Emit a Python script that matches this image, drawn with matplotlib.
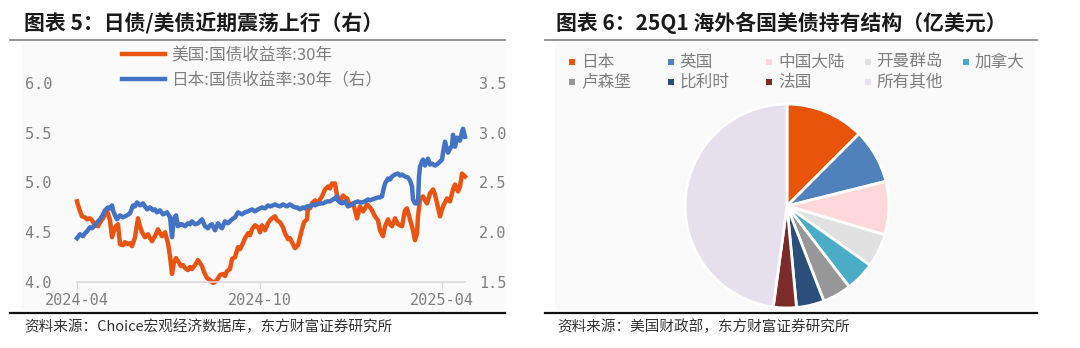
import pandas as pd
import matplotlib
matplotlib.use("Agg")
import matplotlib.pyplot as plt
from matplotlib.lines import Line2D
from matplotlib.patches import Rectangle

plt.rcParams['font.family'] = ['Noto Sans CJK SC', 'DejaVu Sans']

# ---------------- 数据 ----------------
start = pd.Timestamp('2024-04-25')

# 美国30年国债收益率（左轴），按起始日后的天数记录
us_days = [0, 2, 5, 8, 10, 13, 15, 18, 21, 23, 26, 28, 30, 33, 35, 38, 41, 43, 46, 48,
           51, 53, 55, 58, 61, 63, 65, 68, 71, 73, 75, 78, 81, 83, 85, 88, 91, 93, 95, 97,
           99, 101, 104, 106, 108, 111, 113, 115, 118, 121, 123, 125, 127, 130, 133, 136, 138, 140, 143, 146,
           148, 150, 153, 155, 158, 161, 163, 165, 168, 171, 173, 175, 178, 181, 183, 185, 188, 191, 193, 195,
           198, 200, 203, 206, 208, 211, 213, 215, 218, 221, 223, 225, 227, 230, 231, 233, 235, 238, 241, 243,
           245, 248, 251, 253, 255, 258, 260, 263, 266, 268, 270, 273, 276, 278, 280, 283, 286, 288, 290, 293,
           295, 298, 301, 303, 306, 308, 311, 313, 315, 318, 321, 323, 325, 328, 330, 333, 336, 338, 340, 341,
           343, 346, 348, 350, 353, 356, 358, 360, 363, 366, 368, 370, 373, 376, 378, 381, 383, 385, 388]
us_30y = [4.81, 4.74, 4.66, 4.65, 4.63, 4.64, 4.62, 4.57, 4.56, 4.60, 4.64, 4.68, 4.72, 4.62, 4.45, 4.55, 4.58, 4.38, 4.37, 4.40,
          4.38, 4.39, 4.36, 4.45, 4.64, 4.56, 4.50, 4.45, 4.48, 4.44, 4.41, 4.46, 4.53, 4.49, 4.46, 4.50, 4.39, 4.26, 4.08, 4.20,
          4.24, 4.21, 4.16, 4.17, 4.14, 4.12, 4.15, 4.13, 4.17, 4.22, 4.19, 4.16, 4.10, 4.04, 4.02, 3.99, 4.00, 4.02, 4.07, 4.08,
          4.06, 4.11, 4.13, 4.23, 4.25, 4.35, 4.33, 4.37, 4.44, 4.49, 4.47, 4.53, 4.57, 4.55, 4.50, 4.57, 4.52, 4.59, 4.62, 4.64,
          4.66, 4.62, 4.60, 4.55, 4.49, 4.43, 4.44, 4.40, 4.34, 4.37, 4.45, 4.53, 4.60, 4.63, 4.76, 4.74, 4.79, 4.82, 4.79, 4.83,
          4.86, 4.93, 4.96, 4.94, 4.99, 4.99, 4.87, 4.81, 4.87, 4.85, 4.84, 4.77, 4.79, 4.72, 4.64, 4.76, 4.71, 4.74, 4.78, 4.75,
          4.72, 4.66, 4.62, 4.52, 4.46, 4.56, 4.63, 4.58, 4.56, 4.64, 4.58, 4.57, 4.56, 4.72, 4.74, 4.63, 4.52, 4.42, 4.49, 4.66,
          4.83, 4.86, 4.82, 4.79, 4.89, 4.93, 4.88, 4.79, 4.66, 4.76, 4.80, 4.84, 4.81, 4.93, 4.98, 4.91, 4.96, 5.09, 5.06]

# 日本30年国债收益率（右轴）
jp_days = [0, 3, 6, 8, 10, 13, 15, 18, 21, 23, 25, 28, 31, 33, 35, 36, 38, 40, 43, 46,
           48, 50, 53, 56, 58, 60, 63, 66, 68, 70, 73, 76, 78, 80, 83, 86, 88, 90, 93, 95,
           97, 99, 101, 103, 105, 108, 111, 113, 115, 118, 121, 123, 125, 128, 131, 133, 135, 138, 141, 143,
           145, 148, 151, 153, 155, 158, 161, 163, 165, 168, 171, 173, 175, 178, 181, 183, 185, 188, 191, 193,
           196, 198, 200, 203, 206, 208, 210, 213, 216, 218, 220, 223, 226, 228, 230, 233, 236, 238, 240, 243,
           246, 248, 250, 253, 256, 258, 260, 261, 263, 265, 268, 271, 273, 275, 278, 281, 283, 285, 288, 291,
           293, 295, 298, 301, 303, 305, 306, 308, 311, 313, 315, 318, 321, 323, 325, 328, 331, 333, 335, 336,
           338, 341, 342, 343, 346, 348, 351, 353, 355, 358, 361, 363, 365, 366, 368, 370, 371, 373, 375, 376,
           378, 380, 383, 385, 386, 388]
jp_30y = [1.94, 1.98, 1.96, 1.99, 2.01, 2.05, 2.04, 2.07, 2.11, 2.13, 2.16, 2.22, 2.25, 2.24, 2.27, 2.22, 2.17, 2.13, 2.17, 2.15,
          2.16, 2.17, 2.19, 2.27, 2.26, 2.30, 2.27, 2.29, 2.26, 2.23, 2.25, 2.22, 2.23, 2.20, 2.22, 2.18, 2.19, 2.20, 2.15, 1.95,
          2.14, 2.17, 2.06, 2.08, 2.08, 2.06, 2.09, 2.08, 2.11, 2.08, 2.09, 2.11, 2.13, 2.06, 2.04, 2.07, 2.08, 2.02, 2.09, 2.06,
          2.04, 2.11, 2.09, 2.11, 2.13, 2.15, 2.20, 2.19, 2.18, 2.20, 2.21, 2.22, 2.23, 2.21, 2.23, 2.24, 2.25, 2.24, 2.27, 2.26,
          2.27, 2.28, 2.27, 2.26, 2.28, 2.27, 2.26, 2.28, 2.26, 2.25, 2.25, 2.23, 2.25, 2.24, 2.26, 2.26, 2.28, 2.27, 2.28, 2.29,
          2.29, 2.30, 2.31, 2.31, 2.33, 2.34, 2.36, 2.32, 2.30, 2.29, 2.31, 2.26, 2.27, 2.28, 2.30, 2.31, 2.30, 2.30, 2.31, 2.33,
          2.32, 2.33, 2.34, 2.35, 2.35, 2.36, 2.41, 2.49, 2.54, 2.53, 2.56, 2.58, 2.59, 2.57, 2.58, 2.56, 2.55, 2.52, 2.46, 2.33,
          2.29, 2.29, 2.56, 2.66, 2.73, 2.67, 2.74, 2.68, 2.69, 2.67, 2.69, 2.71, 2.73, 2.80, 2.91, 2.83, 2.80, 2.84, 2.87, 2.98,
          2.86, 2.95, 2.92, 3.01, 3.04, 2.96]

x_ticks = ['2024-04-25', '2024-10-25', '2025-04-25']
x_ticklabels = ['2024-04', '2024-10', '2025-04']
left_ticks = [4.0, 4.5, 5.0, 5.5, 6.0]
right_ticks = [1.5, 2.0, 2.5, 3.0, 3.5]

# 25Q1 海外各国美债持有（亿美元）
holders = ['日本', '英国', '中国大陆', '开曼群岛', '加拿大', '卢森堡', '比利时', '法国', '所有其他']
holdings = [11308, 7793, 7654, 4800, 4250, 4120, 3980, 3300, 43300]
pie_colors = ['#E9540B', '#4F81BD', '#FFD8DB', '#E1E1E1', '#4BACC6',
              '#979797', '#2B4E7A', '#7A2B2A', '#E6DFEC']

# ---------------- 画布 ----------------
W, H = 1080, 348
fig = plt.figure(figsize=(W / 100, H / 100), dpi=100)
fig.patch.set_facecolor('white')


def fx(px):
    return px / W


def fy(py):
    return 1 - py / H


def hline(x0, x1, y, color, lw):
    fig.add_artist(Line2D([fx(x0), fx(x1)], [fy(y), fy(y)], transform=fig.transFigure,
                          color=color, linewidth=lw))


# 背景浅灰区域（放在坐标轴之下）
for x0, x1 in [(22, 505), (555, 1035)]:
    fig.patches.append(Rectangle((fx(x0), fy(310)), fx(x1) - fx(x0), fy(42) - fy(310),
                                 transform=fig.transFigure, facecolor='#FAFAFA',
                                 edgecolor='none', zorder=-10))

# 标题、分隔线、资料来源
title_kw = dict(fontsize=15, fontweight='bold', color='#1A1A1A', va='center', ha='left')
fig.text(fx(24), fy(23), '图表 5：日债/美债近期震荡上行（右）', **title_kw)
fig.text(fx(556), fy(23), '图表 6：25Q1 海外各国美债持有结构（亿美元）', **title_kw)
hline(10, 505, 40, '#8C8C8C', 1.3)
hline(545, 1037, 40, '#8C8C8C', 1.3)
hline(10, 505, 313, '#111111', 1.6)
hline(545, 1037, 313, '#111111', 1.6)
src_kw = dict(fontsize=10.5, color='#333333', va='center', ha='left')
fig.text(fx(24), fy(327), '资料来源：Choice宏观经济数据库，东方财富证券研究所', **src_kw)
fig.text(fx(557), fy(327), '资料来源：美国财政部，东方财富证券研究所', **src_kw)

# ---------------- 左图：30年国债收益率 ----------------
ax = fig.add_axes([fx(77), fy(282), fx(465) - fx(77), fy(83) - fy(282)])
ax.patch.set_alpha(0)
ax2 = ax.twinx()
ax2.patch.set_alpha(0)

us_dates = start + pd.to_timedelta(us_days, unit='D')
jp_dates = start + pd.to_timedelta(jp_days, unit='D')

l_us, = ax.plot(us_dates, us_30y, color='#EA5413', linewidth=3.2,
                solid_joinstyle='round', clip_on=False)
l_jp, = ax2.plot(jp_dates, jp_30y, color='#4472C4', linewidth=3.2,
                 solid_joinstyle='round', clip_on=False)

ax.set_xlim(start, start + pd.Timedelta(days=388))
ax.set_ylim(4.0, 6.0)
ax2.set_ylim(1.5, 3.5)
ax.set_xticks(pd.to_datetime(x_ticks))
ax.set_xticklabels(x_ticklabels)
ax.set_yticks(left_ticks)
ax.set_yticklabels([f'{v:.1f}' for v in left_ticks])
ax2.set_yticks(right_ticks)
ax2.set_yticklabels([f'{v:.1f}' for v in right_ticks])

for a in (ax, ax2):
    for s in ('top', 'left', 'right'):
        a.spines[s].set_visible(False)
    a.spines['bottom'].set_color('#D9D9D9')
    a.spines['bottom'].set_linewidth(1.2)
ax2.spines['bottom'].set_visible(False)

tick_font = dict(family='DejaVu Sans Mono', size=11)
ax.tick_params(axis='x', length=5, color='#D9D9D9', labelcolor='#7F7F7F', pad=3)
ax.tick_params(axis='y', length=0, labelcolor='#7F7F7F', pad=18)
ax2.tick_params(axis='y', length=0, labelcolor='#7F7F7F', pad=10)
for lab in ax.get_xticklabels() + ax.get_yticklabels() + ax2.get_yticklabels():
    lab.set_fontproperties(tick_font)

leg = ax2.legend([l_us, l_jp], ['美国:国债收益率:30年', '日本:国债收益率:30年（右）'],
                 loc='upper left', bbox_to_anchor=(fx(122), fy(47)),
                 bbox_transform=fig.transFigure, frameon=False, fontsize=12,
                 handlelength=2.6, handletextpad=0.35, labelspacing=0.45,
                 borderpad=0, borderaxespad=0, labelcolor='#7F7F7F')

# ---------------- 右图：持有结构饼图 ----------------
cx, cy, r = 787, 206, 104
axp = fig.add_axes([fx(cx - r), fy(cy + r), fx(2 * r), fy(0) - fy(2 * r)])
axp.pie(holdings, colors=pie_colors, startangle=90, counterclock=False, radius=1,
        wedgeprops=dict(edgecolor='white', linewidth=2))
axp.set_xlim(-1.02, 1.02)
axp.set_ylim(-1.02, 1.02)
axp.axis('off')

# 图例：两行五列
for i, (name, col) in enumerate(zip(holders, pie_colors)):
    mx = 572 + (i % 5) * 98.5
    my = 62 + (i // 5) * 20
    fig.patches.append(Rectangle((fx(mx - 3), fy(my + 3)), fx(6), fy(0) - fy(6),
                                 transform=fig.transFigure, facecolor=col, edgecolor='none'))
    fig.text(fx(mx + 9), fy(my), name, fontsize=12, color='#7F7F7F', va='center', ha='left')

fig.savefig('out.png', dpi=100)
